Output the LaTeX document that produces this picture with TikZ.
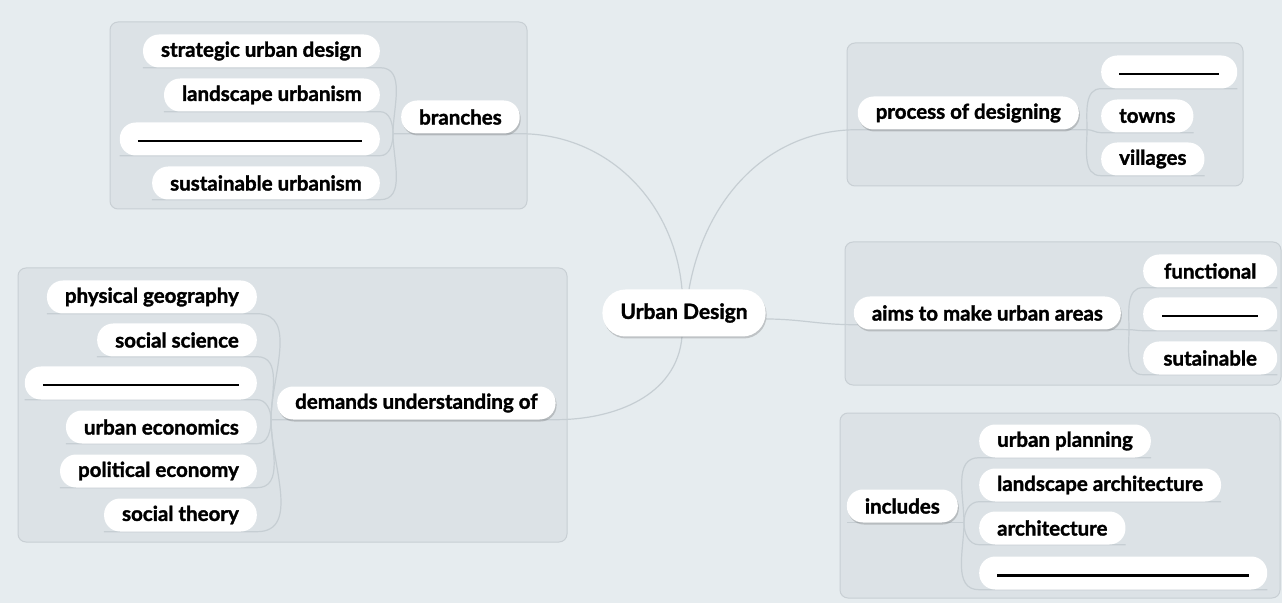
\documentclass[tikz,border=0pt]{standalone}
\usepackage{fontspec}
\setmainfont{Lato}[BoldFeatures={FakeBold=1.6}]
\usetikzlibrary{shadows}

\definecolor{bgcol}{HTML}{E6ECEF}
\definecolor{boxcol}{HTML}{DCE2E6}
\definecolor{boxline}{HTML}{C8CFD4}
\definecolor{linkcol}{HTML}{C6CED3}

\pgfdeclarelayer{back}
\pgfdeclarelayer{links}
\pgfsetlayers{back,links,main}

\tikzset{
    group/.style={fill=boxcol, draw=boxline, line width=1pt, rounded corners=8pt},
    pill/.style={fill=white, rounded corners=16pt, minimum height=33pt, inner xsep=18pt, inner ysep=0pt,
        font=\fontsize{20.5}{22}\selectfont\bfseries},
    parent/.style={pill, drop shadow={shadow xshift=1pt, shadow yshift=-2pt, opacity=0.25, fill=black!70}},
    link/.style={draw=linkcol, line width=1.2pt},
}
\newcommand{\blankline}[1]{\rule[-7pt]{#1}{2.2pt}}

\begin{document}
\begin{tikzpicture}[x=1pt,y=1pt]
    % centre
    \node[parent, minimum height=47pt, rounded corners=23pt, font=\fontsize{21}{23}\selectfont\bfseries] (center) at (684,290) {Urban Design};

    % branches
    \node[parent, anchor=west] (branches) at (401,486) {branches};
    \node[pill, anchor=east] (br1) at (380,552) {strategic urban design};
    \node[pill, anchor=east] (br2) at (380,508) {landscape urbanism};
    \node[pill, anchor=east] (br3) at (380,464) {\blankline{224pt}};
    \node[pill, anchor=east] (br4) at (380,420) {sustainable urbanism};
    \coordinate (bj) at ([xshift=-8pt]branches.south west);

    % process of designing
    \node[parent, anchor=east] (process) at (1079,490) {process of designing};
    \node[pill, anchor=west] (pr1) at (1101,531) {\blankline{100pt}};
    \node[pill, anchor=west] (pr2) at (1101,487) {towns};
    \node[pill, anchor=west] (pr3) at (1101,444) {villages};
    \coordinate (pj) at ([xshift=8pt]process.south east);

    % aims to make urban areas
    \node[parent, anchor=east] (aims) at (1121,290) {aims to make urban areas};
    \node[pill, anchor=west, minimum width=134pt] (ai1) at (1143,332) {functional};
    \node[pill, anchor=west, minimum width=134pt] (ai2) at (1143,289) {\blankline{96pt}};
    \node[pill, anchor=west, minimum width=134pt] (ai3) at (1143,245) {sutainable};
    \coordinate (aj) at ([xshift=8pt]aims.south east);

    % includes
    \node[parent, anchor=east] (includes) at (958,97) {includes};
    \node[pill, anchor=west] (in1) at (979,162) {urban planning};
    \node[pill, anchor=west] (in2) at (979,118) {landscape architecture};
    \node[pill, anchor=west] (in3) at (979,75) {architecture};
    \node[pill, anchor=west] (in4) at (979,30) {\blankline{252pt}};
    \coordinate (ij) at ([xshift=6pt]includes.south east);

    % demands understanding of
    \node[parent, anchor=west] (demands) at (277,200) {demands understanding of};
    \node[pill, anchor=east] (de1) at (257,306) {physical geography};
    \node[pill, anchor=east] (de2) at (257,263) {social science};
    \node[pill, anchor=east] (de3) at (257,220) {\blankline{196pt}};
    \node[pill, anchor=east] (de4) at (257,176) {urban economics};
    \node[pill, anchor=east] (de5) at (257,132) {political economy};
    \node[pill, anchor=east] (de6) at (257,88) {social theory};
    \coordinate (dj) at ([xshift=-6pt]demands.south west);

    \begin{pgfonlayer}{back}
        \fill[bgcol] (0,0) rectangle (1282,603);
        \draw[group] (110,394) rectangle (527,581);
        \draw[group] (847,417) rectangle (1243,560);
        \draw[group] (845,218) rectangle (1281,361);
        \draw[group] (840,5) rectangle (1280,190);
        \draw[group] (18,61) rectangle (567,335);
    \end{pgfonlayer}

    \begin{pgfonlayer}{links}
        \draw[link] (bj) -- (branches.south east) to[out=0,in=95] ([xshift=-2pt]center.north);
        \draw[link] ([xshift=5pt]center.north) to[out=80,in=180] (process.south west) -- (pj);
        \draw[link] ([yshift=-6pt]center.east) to[out=0,in=180] ([yshift=5pt]aims.south west) -- (aj);
        \draw[link] ([xshift=-2pt]center.south) to[out=-95,in=0] (demands.south east) -- (dj);
        \draw[link] (ij) -- (includes.south west);

        \foreach \c/\o in {br1/90,br2/90,br3/-90,br4/-90}
            \draw[link] (bj) to[out=\o,in=0] (\c.south east) -- (\c.south west);
        \foreach \c/\o in {de1/90,de2/90,de3/90,de4/-90,de5/-90,de6/-90}
            \draw[link] (dj) to[out=\o,in=0] (\c.south east) -- (\c.south west);
        \foreach \c/\o in {pr1/90,pr2/0,pr3/-90}
            \draw[link] (pj) to[out=\o,in=180] (\c.south west) -- (\c.south east);
        \foreach \c/\o in {ai1/90,ai2/0,ai3/-90}
            \draw[link] (aj) to[out=\o,in=180] (\c.south west) -- (\c.south east);
        \foreach \c/\o in {in1/90,in2/90,in3/-90,in4/-90}
            \draw[link] (ij) to[out=\o,in=180] (\c.south west) -- (\c.south east);
    \end{pgfonlayer}
\end{tikzpicture}
\end{document}
